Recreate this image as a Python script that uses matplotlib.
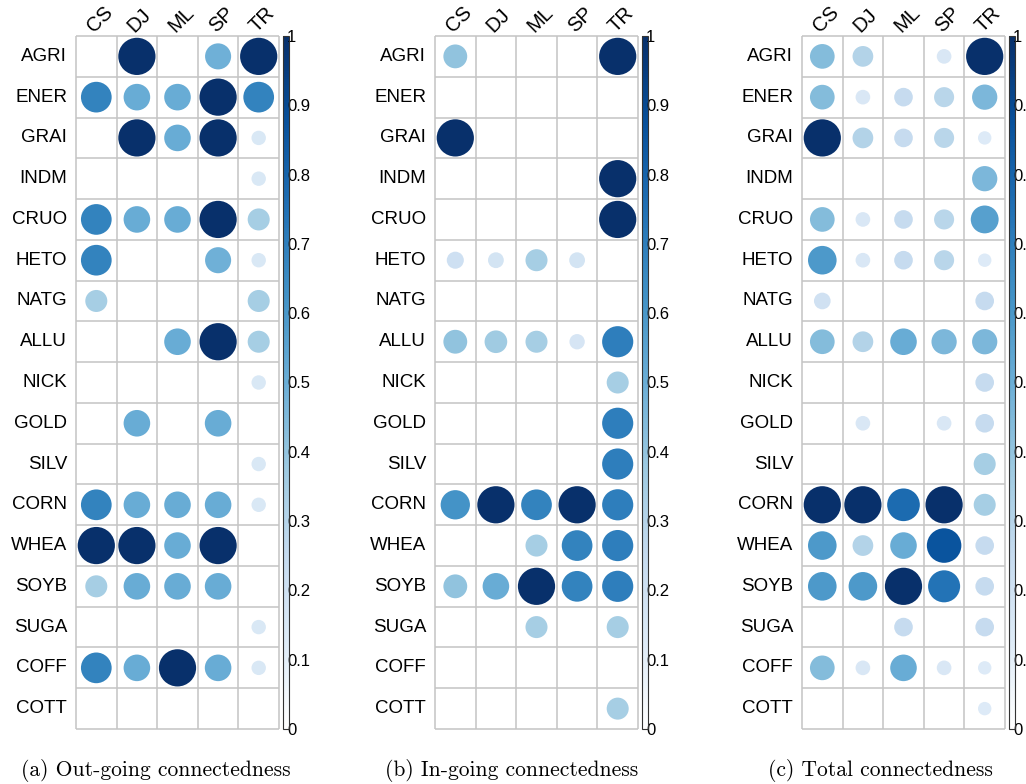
import numpy as np
import matplotlib
matplotlib.use("Agg")
import matplotlib.pyplot as plt
from matplotlib.colors import LinearSegmentedColormap

rows = ["AGRI", "ENER", "GRAI", "INDM", "CRUO", "HETO", "NATG", "ALLU", "NICK",
        "GOLD", "SILV", "CORN", "WHEA", "SOYB", "SUGA", "COFF", "COTT"]
cols = ["CS", "DJ", "ML", "SP", "TR"]

out_values = [
    [0, 1, 0, 0.49, 1],
    [0.68, 0.51, 0.51, 1, 0.68],
    [0, 1, 0.51, 1, 0.15],
    [0, 0, 0, 0, 0.15],
    [0.68, 0.51, 0.51, 1, 0.35],
    [0.68, 0, 0, 0.49, 0.15],
    [0.35, 0, 0, 0, 0.35],
    [0, 0, 0.51, 1, 0.35],
    [0, 0, 0, 0, 0.15],
    [0, 0.51, 0, 0.51, 0],
    [0, 0, 0, 0, 0.15],
    [0.68, 0.51, 0.51, 0.51, 0.15],
    [1, 1, 0.51, 1, 0],
    [0.35, 0.51, 0.51, 0.51, 0],
    [0, 0, 0, 0, 0.15],
    [0.68, 0.51, 1, 0.51, 0.15],
    [0, 0, 0, 0, 0],
]

in_values = [
    [0.41, 0, 0, 0, 1],
    [0, 0, 0, 0, 0],
    [1, 0, 0, 0, 0],
    [0, 0, 0, 0, 1],
    [0, 0, 0, 0, 1],
    [0.21, 0.18, 0.35, 0.18, 0],
    [0, 0, 0, 0, 0],
    [0.41, 0.37, 0.35, 0.17, 0.70],
    [0, 0, 0, 0, 0.35],
    [0, 0, 0, 0, 0.70],
    [0, 0, 0, 0, 0.70],
    [0.62, 1, 0.68, 1, 0.70],
    [0, 0, 0.35, 0.68, 0.70],
    [0.41, 0.51, 1, 0.68, 0.70],
    [0, 0, 0.35, 0, 0.35],
    [0, 0, 0, 0, 0],
    [0, 0, 0, 0, 0.35],
]

total_values = [
    [0.44, 0.31, 0, 0.155, 1],
    [0.44, 0.155, 0.25, 0.29, 0.46],
    [1, 0.31, 0.25, 0.29, 0.13],
    [0, 0, 0, 0, 0.46],
    [0.44, 0.155, 0.25, 0.29, 0.56],
    [0.59, 0.155, 0.25, 0.29, 0.13],
    [0.2, 0, 0, 0, 0.25],
    [0.44, 0.31, 0.51, 0.46, 0.46],
    [0, 0, 0, 0, 0.25],
    [0, 0.155, 0, 0.155, 0.25],
    [0, 0, 0, 0, 0.35],
    [1, 1, 0.77, 1, 0.35],
    [0.59, 0.31, 0.51, 0.86, 0.25],
    [0.59, 0.59, 1, 0.74, 0.25],
    [0, 0, 0.25, 0, 0.25],
    [0.44, 0.155, 0.51, 0.155, 0.13],
    [0, 0, 0, 0, 0.13],
]

captions = ["(a) Out-going connectedness", "(b) In-going connectedness",
            "(c) Total connectedness"]
cbar_ticks = [0, 0.1, 0.2, 0.3, 0.4, 0.5, 0.6, 0.7, 0.8, 0.9, 1]

blues = ["#FFFFFF", "#DEEBF7", "#C6DBEF", "#9ECAE1", "#6BAED6",
         "#4292C6", "#2171B5", "#08519C", "#08306B"]
cmap = LinearSegmentedColormap.from_list("blues", blues, N=256)

W, H = 1026, 784
fig = plt.figure(figsize=(W / 100, H / 100), dpi=100)

grid_lefts = [76, 435, 802]
grid_w = 203
top, bottom = 36, 729
caption_x = [156, 512, 880]
caption_y = 771
sans = "Liberation Sans"
grid_color = "#C4C4C4"

panels = [out_values, in_values, total_values]
cell_px = grid_w / len(cols)

for k, vals in enumerate(panels):
    left = grid_lefts[k]
    ax = fig.add_axes([left / W, 1 - bottom / H, grid_w / W, (bottom - top) / H])
    ax.set_xlim(0, len(cols))
    ax.set_ylim(len(rows), 0)
    ax.axis("off")
    ax.vlines(np.arange(len(cols) + 1), 0, len(rows), colors=grid_color,
              linewidth=1.1, clip_on=False, zorder=1)
    ax.hlines(np.arange(len(rows) + 1), 0, len(cols), colors=grid_color,
              linewidth=1.1, clip_on=False, zorder=1)

    arr = np.array(vals, dtype=float)
    yy, xx = np.nonzero(arr > 0)
    v = arr[yy, xx]
    diam_pt = 0.917 * cell_px * np.sqrt(v) * 0.72
    sc = ax.scatter(xx + 0.5, yy + 0.5, s=diam_pt ** 2, c=v, cmap=cmap,
                    vmin=0, vmax=1, linewidths=0, zorder=2, clip_on=False)

    for i, r in enumerate(rows):
        ax.text(-0.22, i + 0.5, r, ha="right", va="center", fontsize=13.5,
                family=sans, color="black")
    for j, c in enumerate(cols):
        ax.text(j + 0.45, -0.08, c, ha="left", va="baseline", rotation=45,
                rotation_mode="anchor", fontsize=14.5, family=sans, color="black")

    cax = fig.add_axes([(left + grid_w + 4) / W, 1 - bottom / H, 6 / W,
                        (bottom - top) / H])
    cb = fig.colorbar(sc, cax=cax, ticks=cbar_ticks)
    cb.outline.set_edgecolor("#333333")
    cb.outline.set_linewidth(0.8)
    cb.ax.tick_params(length=0, pad=-1.5, labelsize=12)
    cb.ax.set_yticklabels([f"{t:g}" for t in cbar_ticks], family=sans)

    fig.text(caption_x[k] / W, 1 - caption_y / H, captions[k], ha="center",
             va="center", fontsize=15.5, family="cmr10")

fig.savefig("out.png", dpi=100)
